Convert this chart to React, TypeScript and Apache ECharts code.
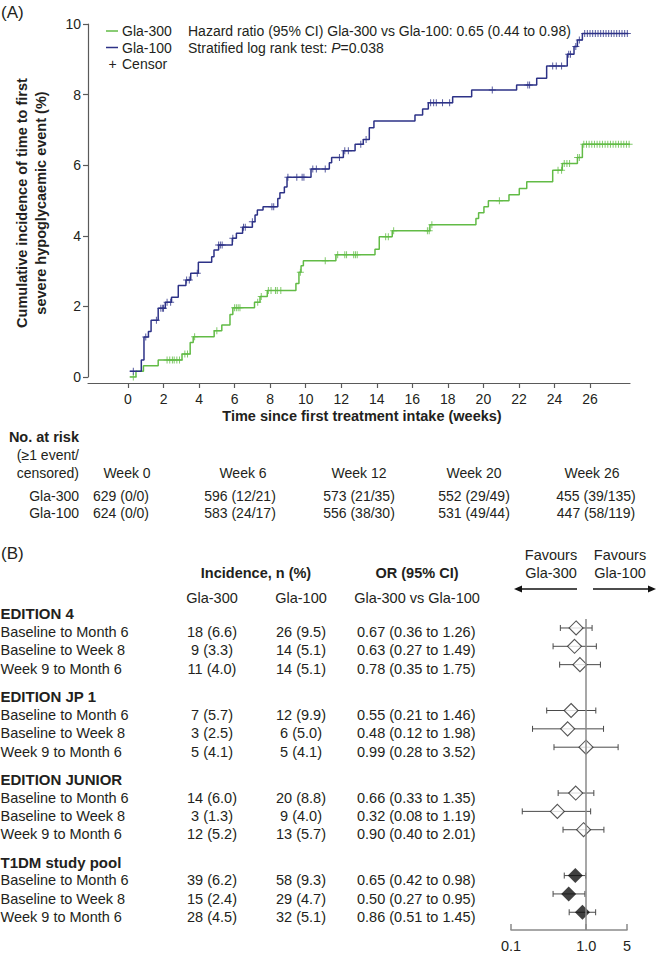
import React, { useEffect, useRef } from "react";
import * as echarts from "echarts";

// ---------- Panel A: Kaplan–Meier style cumulative incidence ----------
const weekTicks = [0, 2, 4, 6, 8, 10, 12, 14, 16, 18, 20, 22, 24, 26];

const gla100Times = [0.1, 0.75, 0.9, 1.15, 1.3, 1.7, 2.1, 2.45, 2.83, 3.26, 3.53, 3.96, 4.71, 4.84, 5.1, 5.87, 6.1, 6.45, 7.0, 7.15, 7.28, 7.6, 8.43, 8.55, 8.8, 8.95, 10.3, 11.33, 11.46, 12.12, 12.78, 13.24, 13.58, 13.84, 16.15, 16.58, 16.9, 18.27, 19.34, 21.87, 23.0, 23.56, 24.72, 25.1, 25.29, 25.57, 28.15];
const gla100Values = [0.16, 0.48, 1.13, 1.29, 1.61, 1.95, 2.12, 2.26, 2.59, 2.75, 2.94, 3.25, 3.41, 3.6, 3.74, 3.93, 4.07, 4.24, 4.4, 4.59, 4.73, 4.82, 5.06, 5.22, 5.38, 5.66, 5.89, 6.07, 6.22, 6.41, 6.59, 6.73, 7.06, 7.25, 7.42, 7.59, 7.77, 7.94, 8.13, 8.27, 8.46, 8.81, 9.14, 9.36, 9.55, 9.73, 9.73];

const gla300Times = [0.1, 0.45, 0.87, 1.7, 3.04, 3.5, 3.67, 4.85, 5.28, 5.74, 5.9, 7.12, 7.43, 7.84, 9.45, 9.62, 9.74, 9.87, 11.7, 13.9, 14.14, 14.87, 16.99, 19.58, 19.73, 20.03, 20.28, 21.44, 22.02, 22.44, 23.9, 24.44, 25.29, 25.57, 28.25];
const gla300Values = [0, 0.16, 0.32, 0.48, 0.65, 0.98, 1.14, 1.31, 1.47, 1.77, 1.96, 2.12, 2.28, 2.45, 2.65, 2.97, 3.15, 3.29, 3.46, 3.62, 3.97, 4.14, 4.31, 4.49, 4.65, 4.82, 4.99, 5.16, 5.34, 5.53, 5.86, 6.05, 6.22, 6.59, 6.59];

const gla100CensorTimes = [0.3, 1.0, 1.6, 1.85, 1.95, 2.0, 2.2, 2.4, 3.3, 3.45, 3.9, 5.1, 5.2, 5.3, 5.9, 6.5, 6.6, 7.0, 8.1, 8.2, 9.0, 9.5, 9.8, 9.9, 10.4, 10.6, 11.1, 11.9, 12.2, 12.4, 13.1, 13.4, 17.03, 17.2, 17.35, 17.7, 18.1, 20.5, 22.5, 22.6, 23.9, 24.1, 24.4, 24.8, 24.9, 25.2, 25.4, 25.7, 25.85, 26.0, 26.15, 26.3, 26.45, 26.6, 26.75, 26.9, 27.05, 27.2, 27.35, 27.5, 27.65, 27.8, 27.95, 28.1];
const gla300CensorTimes = [0.3, 2.2, 2.35, 2.5, 2.6, 2.75, 2.9, 3.2, 3.35, 3.75, 5.0, 6.0, 6.1, 6.2, 6.3, 7.3, 7.5, 7.9, 8.05, 8.3, 8.4, 8.6, 9.7, 11.1, 11.8, 12.2, 12.3, 12.7, 12.8, 12.9, 14.5, 14.65, 14.95, 16.85, 16.95, 17.1, 20.9, 24.2, 24.4, 24.55, 24.7, 24.85, 25.3, 25.4, 25.65, 25.8, 25.95, 26.1, 26.25, 26.4, 26.55, 26.7, 26.85, 27.0, 27.15, 27.3, 27.45, 27.6, 27.75, 27.9, 28.05, 28.2];

const atRiskWeeks = ["Week 0", "Week 6", "Week 12", "Week 20", "Week 26"];
const atRiskGla300 = ["629 (0/0)", "596 (12/21)", "573 (21/35)", "552 (29/49)", "455 (39/135)"];
const atRiskGla100 = ["624 (0/0)", "583 (24/17)", "556 (38/30)", "531 (49/44)", "447 (58/119)"];

// ---------- Panel B: forest plot ----------
const studyGroups = ["EDITION 4", "EDITION JP 1", "EDITION JUNIOR", "T1DM study pool"];
const periods = ["Baseline to Month 6", "Baseline to Week 8", "Week 9 to Month 6"];
const gla300Incidence = ["18 (6.6)", "9 (3.3)", "11 (4.0)", "7 (5.7)", "3 (2.5)", "5 (4.1)", "14 (6.0)", "3 (1.3)", "12 (5.2)", "39 (6.2)", "15 (2.4)", "28 (4.5)"];
const gla100Incidence = ["26 (9.5)", "14 (5.1)", "14 (5.1)", "12 (9.9)", "6 (5.0)", "5 (4.1)", "20 (8.8)", "9 (4.0)", "13 (5.7)", "58 (9.3)", "29 (4.7)", "32 (5.1)"];
const oddsRatio = [0.67, 0.63, 0.78, 0.55, 0.48, 0.99, 0.66, 0.32, 0.9, 0.65, 0.5, 0.86];
const ciLow = [0.36, 0.27, 0.35, 0.21, 0.12, 0.28, 0.33, 0.08, 0.4, 0.42, 0.27, 0.51];
const ciHigh = [1.26, 1.49, 1.75, 1.46, 1.98, 3.52, 1.35, 1.19, 2.01, 0.98, 0.95, 1.45];
const pooledGroupIndex = 3;
const forestTickLabels = ["0.1", "1.0", "5"];

// ---------- styling ----------
const FONT = '"Liberation Sans", Arial, Helvetica, sans-serif';
const INK = "#231f20";
const GREEN = "#62bb46";
const BLUE = "#2d3287";
const AXIS = "#5a5a5a";
const FAXIS = "#8a8a8a";

// forest x positions are log10(OR); the printed 0.1 tick sits at the left end of the axis
const forestMin = -1.29;
const forestMax = Math.log10(5);
const forestTickPositions = [forestMin, 0, forestMax];

const rowPos = (i: number) => Math.floor(i / 3) * 4.5 + (i % 3);

function valueAt(times: number[], values: number[], t: number) {
  let v = values[0];
  for (let i = 0; i < times.length; i++) if (times[i] <= t) v = values[i];
  return v;
}

function T(
  text: string,
  x: number,
  y: number,
  o: { size?: number; bold?: boolean; align?: string; rotation?: number; rich?: any } = {}
) {
  return {
    type: "text",
    x,
    y,
    rotation: o.rotation || 0,
    silent: true,
    style: {
      text,
      fill: INK,
      fontFamily: FONT,
      fontSize: o.size || 14,
      fontWeight: o.bold ? "bold" : "normal",
      textAlign: o.align || "left",
      textVerticalAlign: "middle",
      rich: o.rich,
    },
  };
}

function buildOption() {
  const g: any[] = [];
  // Panel A texts
  g.push(T("(A)", 1, 12, { size: 17 }));
  g.push(T("Cumulative incidence of time to first", 22, 203, { bold: true, size: 14.5, align: "center", rotation: Math.PI / 2 }));
  g.push(T("severe hypoglycaemic event (%)", 41, 203, { bold: true, size: 14.5, align: "center", rotation: Math.PI / 2 }));
  g.push({ type: "line", silent: true, shape: { x1: 106, y1: 31, x2: 118, y2: 31 }, style: { stroke: GREEN, lineWidth: 1.5 } });
  g.push({ type: "line", silent: true, shape: { x1: 106, y1: 47.5, x2: 118, y2: 47.5 }, style: { stroke: BLUE, lineWidth: 1.5 } });
  g.push(T("Gla-300", 122, 31));
  g.push(T("Gla-100", 122, 47.5));
  g.push(T("+", 112.5, 64, { align: "center" }));
  g.push(T("Censor", 122, 64));
  g.push(T("Hazard ratio (95% CI) Gla-300 vs Gla-100: 0.65 (0.44 to 0.98)", 188, 31));
  g.push(
    T("Stratified log rank test: {i|P}=0.038", 188, 47.5, {
      rich: { i: { fontStyle: "italic", fontSize: 14, fontFamily: FONT, fill: INK } },
    })
  );
  g.push(T("Time since first treatment intake (weeks)", 362, 416, { bold: true, size: 14.5, align: "center" }));

  // at-risk table
  g.push(T("No. at risk", 79, 437, { bold: true, size: 14.5, align: "right" }));
  g.push(T("(\u22651 event/", 79, 455, { align: "right" }));
  g.push(T("censored)", 79, 473, { align: "right" }));
  g.push(T("Gla-300", 79, 496, { align: "right" }));
  g.push(T("Gla-100", 79, 513, { align: "right" }));
  const weekCx = [127, 243, 359, 474, 592];
  const valCx = [121, 240, 359, 474, 596];
  atRiskWeeks.forEach((w, i) => g.push(T(w, weekCx[i], 473, { align: "center" })));
  atRiskGla300.forEach((w, i) => g.push(T(w, valCx[i], 496, { align: "center" })));
  atRiskGla100.forEach((w, i) => g.push(T(w, valCx[i], 513, { align: "center" })));

  // Panel B texts
  const FS = 14.5;
  g.push(T("(B)", 1, 553, { size: 17 }));
  g.push(T("Incidence, n (%)", 256, 573, { bold: true, size: 14.5, align: "center" }));
  g.push(T("OR (95% CI)", 417, 573, { bold: true, size: 14.5, align: "center" }));
  g.push(T("Gla-300", 212, 598, { size: FS, align: "center" }));
  g.push(T("Gla-100", 301, 598, { size: FS, align: "center" }));
  g.push(T("Gla-300 vs Gla-100", 417, 598, { size: FS, align: "center" }));
  g.push(T("Favours", 551, 555, { size: FS, align: "center" }));
  g.push(T("Gla-300", 551, 573, { size: FS, align: "center" }));
  g.push(T("Favours", 620, 555, { size: FS, align: "center" }));
  g.push(T("Gla-100", 620, 573, { size: FS, align: "center" }));
  g.push({ type: "line", silent: true, shape: { x1: 577, y1: 589, x2: 521, y2: 589 }, style: { stroke: "#111", lineWidth: 1.4 } });
  g.push({ type: "polygon", silent: true, shape: { points: [[514, 589], [522, 585.5], [522, 592.5]] }, style: { fill: "#111" } });
  g.push({ type: "line", silent: true, shape: { x1: 593, y1: 589, x2: 649, y2: 589 }, style: { stroke: "#111", lineWidth: 1.4 } });
  g.push({ type: "polygon", silent: true, shape: { points: [[656, 589], [648, 585.5], [648, 592.5]] }, style: { fill: "#111" } });

  const textY = (p: number) => 632 + 18.4 * p;
  studyGroups.forEach((name, gi) => {
    g.push(T(name, 0.5, textY(gi * 4.5 - 1), { bold: true, size: 15 }));
  });
  oddsRatio.forEach((or, i) => {
    const y = textY(rowPos(i));
    g.push(T(periods[i % 3], 0.5, y, { size: FS }));
    g.push(T(gla300Incidence[i], 212, y, { size: FS, align: "center" }));
    g.push(T(gla100Incidence[i], 301, y, { size: FS, align: "center" }));
    g.push(
      T(`${or.toFixed(2)} (${ciLow[i].toFixed(2)} to ${ciHigh[i].toFixed(2)})`, 357, y, { size: FS })
    );
  });

  const censorSymbol = "path://M3,0H4V7H3Z M0,3H7V4H0Z";

  const ciData = oddsRatio.map((_, i) => [Math.log10(ciLow[i]), Math.log10(ciHigh[i]), rowPos(i)]);
  const openDiamonds = oddsRatio
    .map((or, i) => [Math.log10(or), rowPos(i), Math.floor(i / 3)])
    .filter((d) => d[2] !== pooledGroupIndex);
  const filledDiamonds = oddsRatio
    .map((or, i) => [Math.log10(or), rowPos(i), Math.floor(i / 3)])
    .filter((d) => d[2] === pooledGroupIndex);

  return {
    animation: false,
    textStyle: { fontFamily: FONT },
    grid: [
      { left: 88, right: 26, top: 24, bottom: 576 },
      { left: 511, right: 29, top: 619, bottom: 22 },
    ],
    xAxis: [
      {
        type: "value",
        gridIndex: 0,
        min: -2.25,
        max: 28.25,
        offset: 6,
        axisLine: { show: true, onZero: false, lineStyle: { color: AXIS, width: 1.2 } },
        axisTick: { show: true, length: 5, customValues: weekTicks, lineStyle: { color: AXIS, width: 1.2 } },
        axisLabel: { customValues: weekTicks, color: INK, fontSize: 14, margin: 9, fontFamily: FONT },
        splitLine: { show: false },
      },
      {
        type: "value",
        gridIndex: 1,
        min: forestMin,
        max: forestMax,
        axisLine: { show: true, onZero: false, lineStyle: { color: FAXIS, width: 1.5 } },
        axisTick: { show: true, inside: true, length: 6, customValues: forestTickPositions, lineStyle: { color: FAXIS, width: 1.5 } },
        axisLabel: {
          customValues: forestTickPositions,
          showMinLabel: true,
          showMaxLabel: true,
          color: INK,
          fontSize: 14.5,
          margin: 8,
          fontFamily: FONT,
          formatter: (v: number) => {
            const k = forestTickPositions.findIndex((p) => Math.abs(p - v) < 1e-6);
            return k >= 0 ? forestTickLabels[k] : "";
          },
        },
        splitLine: { show: false },
      },
    ],
    yAxis: [
      {
        type: "value",
        gridIndex: 0,
        min: 0,
        max: 10,
        interval: 2,
        axisLine: { show: true, onZero: false, lineStyle: { color: AXIS, width: 1.2 } },
        axisTick: { show: true, length: 5, lineStyle: { color: AXIS, width: 1.2 } },
        axisLabel: { color: INK, fontSize: 14, margin: 7, fontFamily: FONT },
        splitLine: { show: false },
      },
      {
        type: "value",
        gridIndex: 1,
        min: -0.489,
        max: 16.467,
        inverse: true,
        show: false,
        axisLine: { onZero: false },
        splitLine: { show: false },
      },
    ],
    series: [
      {
        name: "Gla-300",
        type: "line",
        xAxisIndex: 0,
        yAxisIndex: 0,
        step: "end",
        symbol: "none",
        data: gla300Times.map((t, i) => [t, gla300Values[i]]),
        lineStyle: { color: GREEN, width: 1.5 },
        itemStyle: { color: GREEN },
        z: 2,
      },
      {
        name: "Gla-100",
        type: "line",
        xAxisIndex: 0,
        yAxisIndex: 0,
        step: "end",
        symbol: "none",
        data: gla100Times.map((t, i) => [t, gla100Values[i]]),
        lineStyle: { color: BLUE, width: 1.5 },
        itemStyle: { color: BLUE },
        z: 3,
      },
      {
        name: "Gla-300 censor",
        type: "scatter",
        xAxisIndex: 0,
        yAxisIndex: 0,
        symbol: censorSymbol,
        symbolSize: 7,
        data: gla300CensorTimes.map((t) => [t, valueAt(gla300Times, gla300Values, t)]),
        itemStyle: { color: GREEN, opacity: 0.8 },
        z: 2,
      },
      {
        name: "Gla-100 censor",
        type: "scatter",
        xAxisIndex: 0,
        yAxisIndex: 0,
        symbol: censorSymbol,
        symbolSize: 7,
        data: gla100CensorTimes.map((t) => [t, valueAt(gla100Times, gla100Values, t)]),
        itemStyle: { color: BLUE, opacity: 0.8 },
        z: 3,
      },
      {
        name: "95% CI",
        type: "custom",
        xAxisIndex: 1,
        yAxisIndex: 1,
        encode: { x: [0, 1], y: 2 },
        data: ciData,
        z: 2,
        renderItem: (params: any, api: any) => {
          const lo = api.coord([api.value(0), api.value(2)]);
          const hi = api.coord([api.value(1), api.value(2)]);
          const cap = 3;
          const st = { stroke: "#4a4a4a", lineWidth: 1 };
          return {
            type: "group",
            children: [
              { type: "line", shape: { x1: lo[0], y1: lo[1], x2: hi[0], y2: hi[1] }, style: st },
              { type: "line", shape: { x1: lo[0], y1: lo[1] - cap, x2: lo[0], y2: lo[1] + cap }, style: st },
              { type: "line", shape: { x1: hi[0], y1: hi[1] - cap, x2: hi[0], y2: hi[1] + cap }, style: st },
            ],
          };
        },
        markLine: {
          silent: true,
          symbol: ["none", "none"],
          label: { show: false },
          lineStyle: { color: FAXIS, width: 1.5, type: "solid" },
          data: [{ xAxis: 0 }],
        },
      },
      {
        name: "OR (study)",
        type: "scatter",
        xAxisIndex: 1,
        yAxisIndex: 1,
        symbol: "diamond",
        symbolSize: 14,
        data: openDiamonds,
        itemStyle: { color: "#ffffff", borderColor: "#2a2a2a", borderWidth: 1.1 },
        z: 4,
      },
      {
        name: "OR (pool)",
        type: "scatter",
        xAxisIndex: 1,
        yAxisIndex: 1,
        symbol: "diamond",
        symbolSize: 15,
        data: filledDiamonds,
        itemStyle: { color: "#111111" },
        z: 4,
      },
    ],
    graphic: g,
  };
}

export default function App() {
  const ref = useRef<HTMLDivElement>(null);
  useEffect(() => {
    if (!ref.current) return;
    const chart = echarts.init(ref.current, undefined, { renderer: "svg" });
    chart.setOption(buildOption() as any);
    return () => chart.dispose();
  }, []);
  return (
    <div
      ref={ref}
      style={{ position: "absolute", left: 0, top: 0, width: 656, height: 953, background: "#fff" }}
    />
  );
}
